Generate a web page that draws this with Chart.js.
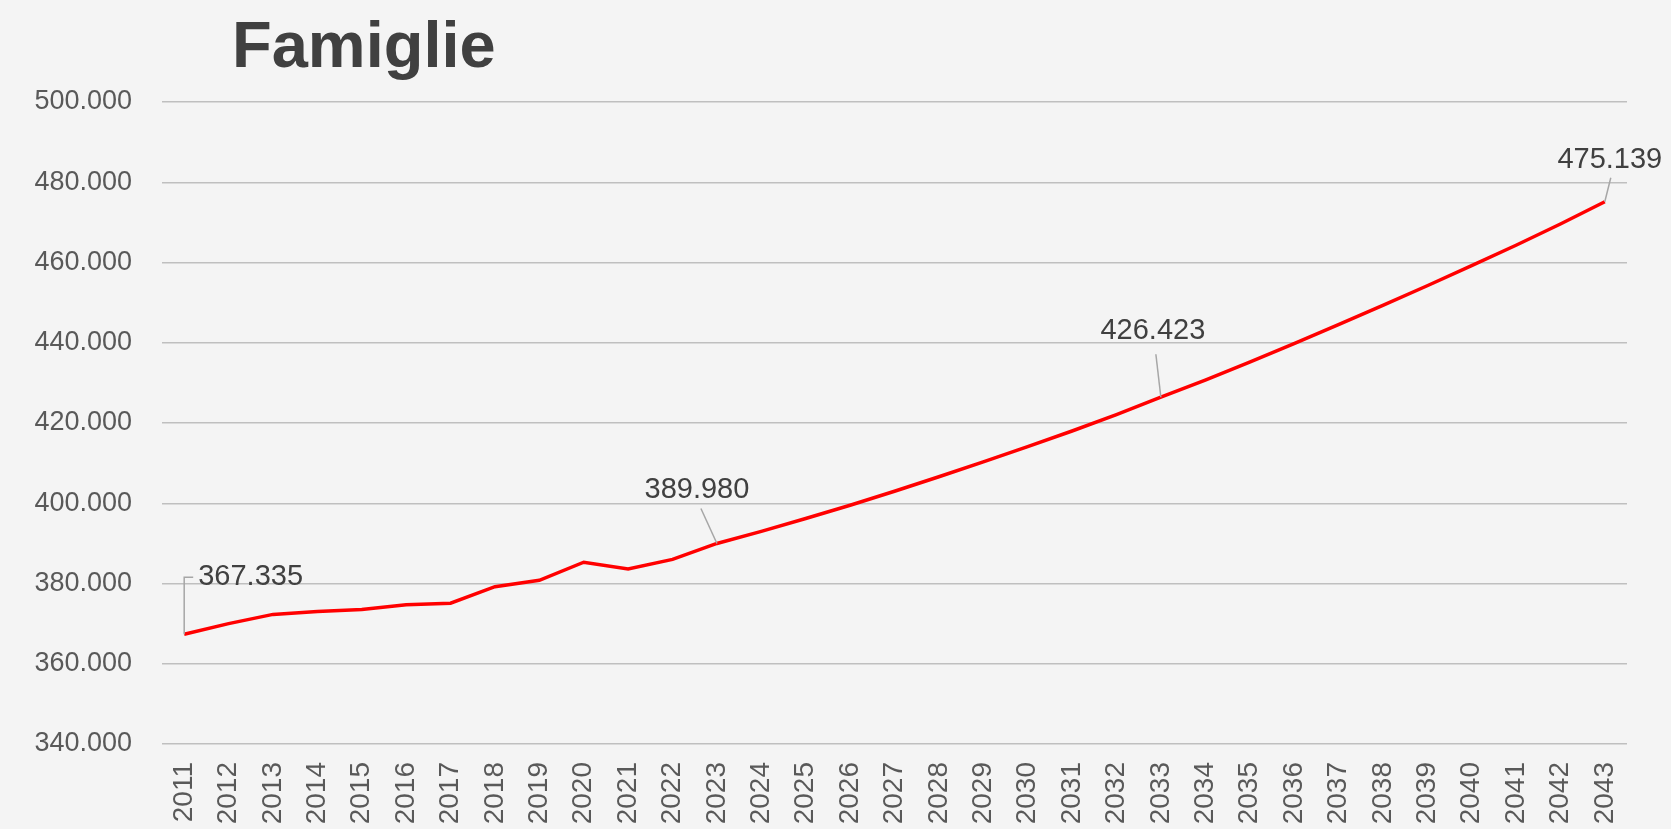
<!DOCTYPE html>
<html>
<head>
<meta charset="utf-8">
<title>Famiglie</title>
<script src="https://cdn.jsdelivr.net/npm/chart.js@4/dist/chart.umd.min.js"></script>
<style>
  html, body { margin: 0; padding: 0; background: #f4f4f4; overflow: hidden; }
  canvas { display: block; }
</style>
</head>
<body>
<canvas id="chart" width="1671" height="829"></canvas>
<script>
// Number of households per year (2011-2022 observed, 2023-2043 projected)
const years = [
  '2011','2012','2013','2014','2015','2016','2017','2018','2019','2020','2021',
  '2022','2023','2024','2025','2026','2027','2028','2029','2030','2031','2032',
  '2033','2034','2035','2036','2037','2038','2039','2040','2041','2042','2043'
];
const households = [
  367335, 370000, 372300, 373000, 373500, 374700, 375100, 379200, 380800, 385300, 383600,
  386000, 389980, 393000, 396200, 399500, 403000, 406600, 410300, 414100, 418000, 422100,
  426423, 430700, 435200, 439800, 444500, 449300, 454200, 459200, 464300, 469600, 475139
];
const labelledYears = ['2011', '2023', '2033', '2043'];
const yMin = 340000;
const yMax = 500000;
const yStep = 20000;
const chartTitle = 'Famiglie';

const FONT = "'Liberation Sans', Arial, Helvetica, sans-serif";

// Italian thousands separator: 367335 -> "367.335"
function fmt(v) {
  return String(Math.round(v)).replace(/\B(?=(\d{3})+(?!\d))/g, '.');
}

// Where each value label sits relative to its point (pixels), plus its leader line
const labelPlacement = {
  '2011': { dx: 14, dy: -57, align: 'left', leader: 'elbow' },
  '2023': { dx: -20, dy: -53, align: 'center', leader: [-16, -35] },
  '2033': { dx: -8, dy: -66, align: 'center', leader: [-5, -43] },
  '2043': { dx: 5, dy: -42, align: 'center', leader: [6, -24] }
};

const titlePlugin = {
  id: 'leftTitle',
  afterDraw(chart) {
    const ctx = chart.ctx;
    ctx.save();
    ctx.font = `bold 65px ${FONT}`;
    ctx.fillStyle = '#404040';
    ctx.textAlign = 'left';
    ctx.textBaseline = 'alphabetic';
    ctx.fillText(chartTitle, 232, 67);
    ctx.restore();
  }
};

const valueLabels = {
  id: 'valueLabels',
  afterDatasetsDraw(chart) {
    const ctx = chart.ctx;
    const meta = chart.getDatasetMeta(0);
    ctx.save();
    labelledYears.forEach(year => {
      const i = years.indexOf(year);
      const pt = meta.data[i];
      const p = labelPlacement[year];
      const x = pt.x, y = pt.y;
      // leader line
      ctx.strokeStyle = '#a6a6a6';
      ctx.lineWidth = 1.5;
      ctx.beginPath();
      if (p.leader === 'elbow') {
        ctx.moveTo(x, y);
        ctx.lineTo(x, y + p.dy);
        ctx.lineTo(x + 9, y + p.dy);
      } else {
        ctx.moveTo(x, y);
        ctx.lineTo(x + p.leader[0], y + p.leader[1]);
      }
      ctx.stroke();
      // label text
      ctx.font = `29px ${FONT}`;
      ctx.fillStyle = '#404040';
      ctx.textAlign = p.align;
      ctx.textBaseline = 'middle';
      ctx.fillText(fmt(households[i]), x + p.dx, y + p.dy);
    });
    ctx.restore();
  }
};

new Chart(document.getElementById('chart'), {
  type: 'line',
  data: {
    labels: years,
    datasets: [{
      data: households,
      borderColor: '#ff0000',
      borderWidth: 3.5,
      pointRadius: 0,
      tension: 0,
      fill: false,
      clip: false
    }]
  },
  options: {
    responsive: false,
    animation: false,
    layout: { padding: { top: 102, right: 44, left: 0, bottom: 0 } },
    plugins: {
      legend: { display: false },
      tooltip: { enabled: false },
      title: { display: false }
    },
    scales: {
      x: {
        offset: true,
        grid: { display: false, drawTicks: false },
        border: { display: false },
        ticks: {
          color: '#595959',
          font: { family: FONT, size: 28 },
          minRotation: 90,
          maxRotation: 90,
          padding: 18,
          autoSkip: false
        },
        afterFit(scale) { scale.height = 85; }
      },
      y: {
        min: yMin,
        max: yMax,
        grid: { color: '#bfbfbf', lineWidth: 1.5, drawTicks: false },
        border: { display: false },
        ticks: {
          stepSize: yStep,
          color: '#595959',
          font: { family: FONT, size: 27 },
          padding: 30,
          callback: v => fmt(v)
        },
        afterFit(scale) { scale.width = 162; }
      }
    }
  },
  plugins: [titlePlugin, valueLabels]
});
</script>
</body>
</html>
